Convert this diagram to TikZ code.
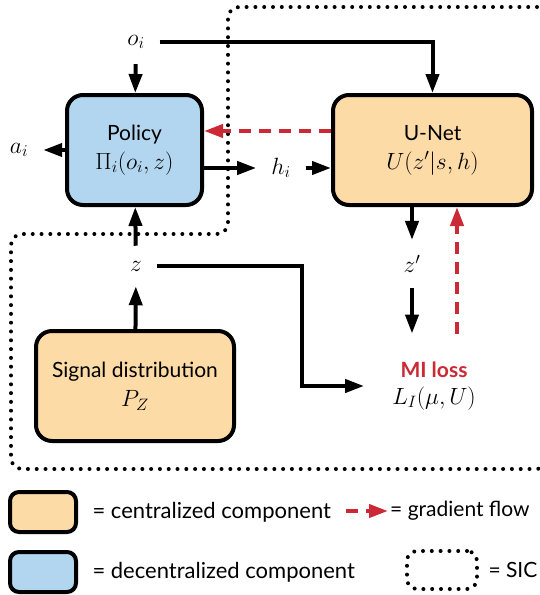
\RequirePackage{fix-cm}
\documentclass[tikz,border=0pt]{standalone}
\usepackage[no-math]{fontspec}
\setmainfont{Lato}
\usetikzlibrary{arrows.meta, positioning}
\definecolor{central_color}{RGB}{253, 219, 167}
\definecolor{decentral_color}{RGB}{178, 214, 239}
\definecolor{grad_color}{RGB}{204, 41, 54}
\DeclareMathSizes{21}{23.5}{16.5}{12}

\begin{document}
\begin{tikzpicture}[x=1pt, y=-1pt, font=\fontsize{21}{27}\selectfont,
    comp/.style={draw, line width=4pt, rounded corners=16pt, minimum height=110pt, align=center, inner sep=0pt},
    legbox/.style={draw, line width=4pt, rounded corners=9pt, minimum width=66pt, minimum height=40pt},
    legtext/.style={font=\fontsize{22}{26}\selectfont},
    lbl/.style={inner sep=15pt},
    flow/.style={line width=4pt, -{Triangle[length=19pt, width=13pt]}},
    grad/.style={flow, grad_color, dash pattern=on 12pt off 8pt},
    sic/.style={line width=4pt, line cap=round, dash pattern=on 0pt off 8.8pt}]

      \useasboundingbox (0,0) rectangle (540,595);

      % 1. SIC (region punteada)
      \begin{scope}
        \clip (0,0) rectangle (540,595);
        \draw[sic, rounded corners=11pt] (548,7) -- (228,7) -- (228,234) -- (11,234) -- (11,469) -- (548,469) -- cycle;
      \end{scope}

      % 2. Componentes
      \node[comp, fill=decentral_color, minimum width=135pt] (policy) at (134.5,150) {Policy\\[2pt]$\Pi_i(o_i, z)$};
      \node[comp, fill=central_color, minimum width=199pt] (unet) at (432.5,150) {U-Net\\[2pt]$U(z'|s, h)$};
      \node[comp, fill=central_color, minimum width=198pt] (signal) at (135,386) {Signal distribution\\[2pt]$P_Z$};

      % 3. Variables
      \node[lbl] (oi) at (136,42) {$o_i$};
      \node[lbl] (ai) at (19,150) {$a_i$};
      \node[lbl] (hi) at (281,168) {$h_i$};
      \node[lbl] (z) at (136,266) {$z$};
      \node[lbl] (zp) at (412,264) {$z'$};
      \node[inner sep=28pt, align=center] (mi) at (434,386) {\textbf{\textcolor{grad_color}{MI loss}}\\$L_I(\mu, U)$};
      \coordinate (zbend) at (302,266);

      % 4. Flechas
      \draw[flow] (oi) -- (policy);
      \draw[flow] (oi) -| (unet);
      \draw[flow] (policy) -- (ai);
      \draw[flow] (policy.east |- hi) -- (hi);
      \draw[flow] (hi) -- (unet.west |- hi);
      \draw[grad] ([yshift=19pt]unet.west) -- ([yshift=19pt]policy.east);
      \draw[flow] (z) -- (policy);
      \draw[flow] (signal) -- (z);
      \draw[flow] (z) -- (zbend) |- (mi);
      \draw[flow] (unet.south -| zp) -- (zp);
      \draw[flow] (zp) -- (zp |- mi.north);
      \draw[grad] ([xshift=23pt]mi.north) -- ([xshift=23pt]mi.north |- unet.south);

      % 5. Leyenda
      \node[legbox, fill=central_color] (legc) at (43,512) {};
      \node[legtext, right=11pt of legc] (legctext) {= centralized component};
      \coordinate (gstart) at (346,511);
      \coordinate (gend) at (388,511);
      \draw[grad] (gstart) -- (gend);
      \node[legtext, right=0pt of gend, inner xsep=2pt, font=\fontsize{21}{26}\selectfont] (gradtext) {= gradient flow};
      \node[legbox, fill=decentral_color] (legd) at (43,572) {};
      \node[legtext, right=11pt of legd] (legdtext) {= decentralized component};
      \node[draw, sic, rounded corners=10pt, minimum width=70pt, minimum height=38pt] (legs) at (442,570) {};
      \node[legtext, right=6pt of legs, font=\fontsize{21}{26}\selectfont] (legstext) {= SIC};

\end{tikzpicture}
\end{document}
